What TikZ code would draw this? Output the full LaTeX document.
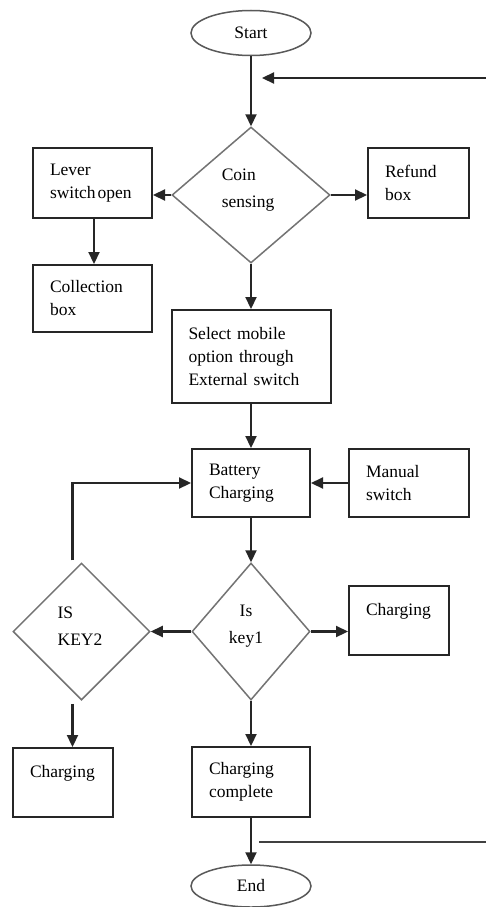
\documentclass[tikz,border=0pt]{standalone}
\usepackage{fontspec}
\setmainfont{Liberation Serif}
\usetikzlibrary{shapes.geometric,arrows.meta}
\begin{document}
\begin{tikzpicture}[x=1pt,y=-1pt,
 box/.style={draw=black!85,line width=2pt,rectangle,inner xsep=17pt,inner ysep=0pt,align=left,font=\fontsize{17.5}{23}\selectfont},
 dia/.style={draw=black!55,line width=1.5pt,diamond,inner sep=0pt},
 dtext/.style={align=left,inner sep=0pt,font=\fontsize{17.5}{27}\selectfont},
 term/.style={draw=black!65,line width=1.5pt,ellipse,inner sep=0pt,minimum width=120pt,minimum height=45pt,font=\fontsize{17.5}{20}\selectfont},
 arr/.style={draw=black!85,line width=2.2pt,-{Triangle[length=12pt,width=11pt]}},
 ln/.style={draw=black!75,line width=1.8pt}]
\fill[white] (0,0) rectangle (486,907);
\useasboundingbox (0,0) rectangle (486,907);

\node[term] (start) at (251,33) {Start};
\node[dia, minimum width=158pt, minimum height=136pt] (coin) at (251,195) {};
\node[dtext] (coint) at (248,190) {Coin\\sensing};
\node[box, minimum width=119pt, text width=85pt, minimum height=70pt] (lever) at (92.5,183) {Lever\\\mbox{switch\hspace{2pt}open}};
\node[box, minimum width=101pt, text width=67pt, minimum height=70pt] (refund) at (418.5,183) {Refund\\box};
\node[box, minimum width=119pt, text width=85pt, minimum height=67pt] (coll) at (92.5,298.5) {Collection\\box};
\node[box, minimum width=159pt, text width=125pt, minimum height=93pt] (select) at (251,356.5) {Select mobile\\option through\\External switch};
\node[box, minimum width=118pt, text width=84pt, minimum height=68pt] (batt) at (251,483) {Battery\\Charging};
\node[box, minimum width=120pt, text width=86pt, minimum height=68pt] (manual) at (409,483) {Manual\\switch};
\node[dia, minimum width=137pt, minimum height=137pt] (key2) at (81.5,631.5) {};
\node[dtext] (key2t) at (80,626.5) {IS\\KEY2};
\node[dia, minimum width=118pt, minimum height=137pt] (key1) at (251,631.5) {};
\node[dtext, align=center] (key1t) at (246,626.5) {Is\\key1};
\node[box, minimum width=100pt, text width=66pt, minimum height=69pt] (rchg) at (399,620.5) {Charging\\\mbox{}};
\node[box, minimum width=100pt, text width=66pt, minimum height=69pt] (lchg) at (63,782.5) {Charging\\\mbox{}};
\node[box, minimum width=118pt, text width=84pt, minimum height=70pt] (done) at (251,782) {Charging\\complete};
\node[term, minimum height=42pt] (end) at (251,886) {End};

\coordinate (retR) at (486,78);
\coordinate (retL) at (262,78);
\coordinate (botL) at (259,842);
\coordinate (botR) at (486,842);

\draw[arr] (start.south) -- (coin.north);
\draw[arr] (retR) -- (retL);
\draw[arr] (coin.west) -- (coin.west -| lever.east);
\draw[arr] (coin.east) -- (coin.east -| refund.west);
\draw[arr] ([xshift=1.5pt]lever.south) -- ([xshift=1.5pt]coll.north);
\draw[arr] (coin.south) -- (select.north);
\draw[arr] (select.south) -- (batt.north);
\draw[arr] (manual.west) -- (batt.east);
\draw[arr] ([xshift=-9pt,yshift=2pt]key2.north) |- (batt.west);
\draw[arr] (batt.south) -- (key1.north);
\draw[arr] (key1.west) -- (key2.east);
\draw[arr] (key1.east) -- (key1.east -| rchg.west);
\draw[arr] (key1.south) -- (done.north);
\draw[arr] ([xshift=-9pt,yshift=-3pt]key2.south) -- ([xshift=-9pt]key2.south |- lchg.north);
\draw[arr] (done.south) -- (end.north);
\draw[ln] (botL) -- (botR);
\end{tikzpicture}
\end{document}
